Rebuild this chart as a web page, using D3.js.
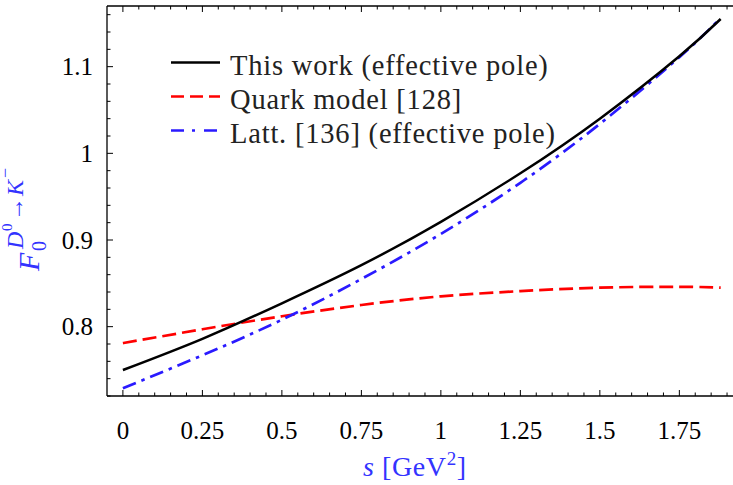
<!DOCTYPE html>
<meta charset="utf-8">
<script src="https://d3js.org/d3.v7.min.js"></script>
<style>
  body { margin: 0; background: #fff; }
  text { font-family: "Liberation Serif", "Times New Roman", serif; }
</style>
<div id="chart"></div>
<script>

// values
var sVals = [0, 0.25, 0.5, 0.75, 1, 1.25, 1.5, 1.75, 1.88];
var thisWork = [0.750, 0.786, 0.827, 0.871, 0.921, 0.977, 1.040, 1.112, 1.155];
var quarkModel = [0.781, 0.797, 0.812, 0.825, 0.835, 0.841, 0.845, 0.846, 0.845];
var lattice = [0.729, 0.767, 0.808, 0.855, 0.907, 0.966, 1.034, 1.111, 1.156];

var xTicks = [0, 0.25, 0.5, 0.75, 1, 1.25, 1.5, 1.75];
var xTickLabels = ["0", "0.25", "0.5", "0.75", "1", "1.25", "1.5", "1.75"];
var yTicks = [0.8, 0.9, 1.0, 1.1];
var yTickLabels = ["0.8", "0.9", "1", "1.1"];

var legendNames = ["This work (effective pole)", "Quark model [128]", "Latt. [136] (effective pole)"];

var width = 733, height = 485;
var pLeft = 107, pRight = 733.4, pTop = 6, pBottom = 396;

var svg = d3.select("#chart")
  .append("svg")
    .attr("width", width)
    .attr("height", height);

var x = d3.scaleLinear()
  .domain([-0.05, 1.92])
  .range([pLeft, pRight]);

var y = d3.scaleLinear()
  .domain([0.72, 1.17])
  .range([pBottom, pTop]);

// frame
var frame = svg.append("g").attr("stroke", "#000").attr("stroke-width", 1.3).attr("fill", "none");
frame.append("line").attr("x1", pLeft).attr("x2", pLeft).attr("y1", pTop).attr("y2", pBottom);
frame.append("line").attr("x1", pLeft).attr("x2", width).attr("y1", pBottom).attr("y2", pBottom);
frame.append("line").attr("x1", pLeft).attr("x2", width).attr("y1", pTop).attr("y2", pTop);

// minor / major ticks, pointing inwards
var xMinor = d3.range(0, 1.92, 0.05);
var yMinor = d3.range(0.72, 1.17, 0.02);

function isMajor(v, step) {
  return Math.abs(v / step - Math.round(v / step)) < 1e-6;
}

var tickG = svg.append("g").attr("stroke", "#000").attr("stroke-width", 1);
xMinor.forEach(function(v) {
  var len = isMajor(v, 0.25) ? 6 : 3.5;
  tickG.append("line").attr("x1", x(v)).attr("x2", x(v)).attr("y1", pBottom).attr("y2", pBottom - len);
  tickG.append("line").attr("x1", x(v)).attr("x2", x(v)).attr("y1", pTop).attr("y2", pTop + len);
});
yMinor.forEach(function(v) {
  var len = isMajor(v, 0.1) ? 6 : 3.5;
  tickG.append("line").attr("x1", pLeft).attr("x2", pLeft + len).attr("y1", y(v)).attr("y2", y(v));
});

// tick labels
svg.append("g").selectAll("text")
  .data(xTicks)
  .enter()
  .append("text")
    .attr("x", function(d) { return x(d); })
    .attr("y", 439)
    .attr("text-anchor", "middle")
    .style("font-size", "25px")
    .text(function(d, i) { return xTickLabels[i]; });

svg.append("g").selectAll("text")
  .data(yTicks)
  .enter()
  .append("text")
    .attr("x", 93)
    .attr("y", function(d) { return y(d) + 8.5; })
    .attr("text-anchor", "end")
    .style("font-size", "25px")
    .text(function(d, i) { return yTickLabels[i]; });

// curves
var series = [
  { vals: thisWork, color: "#000000", dash: null, legDash: null, w: 2.5 },
  { vals: quarkModel, color: "#ff0000", dash: "14,6", legDash: "13,6", w: 2.7 },
  { vals: lattice, color: "#2a1aff", dash: "14,6,3.5,6", legDash: "13,8,3,9", w: 2.7 }
];

var line = d3.line()
  .x(function(d) { return x(d[0]); })
  .y(function(d) { return y(d[1]); })
  .curve(d3.curveNatural);

var plotArea = svg.append("g");
[1, 2, 0].forEach(function(k) {
  var ser = series[k];
  plotArea.append("path")
    .datum(sVals.map(function(s, i) { return [s, ser.vals[i]]; }))
    .attr("fill", "none")
    .attr("stroke", ser.color)
    .attr("stroke-width", ser.w)
    .attr("stroke-dasharray", ser.dash)
    .attr("d", line);
});

// legend
var legend = svg.append("g");
series.forEach(function(ser, i) {
  var ly = 62.5 + i * 34;
  legend.append("line")
    .attr("x1", 171).attr("x2", 220)
    .attr("y1", ly).attr("y2", ly)
    .attr("stroke", ser.color)
    .attr("stroke-width", ser.w)
    .attr("stroke-dasharray", ser.legDash);
  legend.append("text")
    .attr("x", 230)
    .attr("y", ly + 12)
    .style("font-size", "28.5px")
    .style("letter-spacing", "0.8px")
    .attr("fill", "#222")
    .text(legendNames[i]);
});

// axis titles (blue)
var blue = "#3333ff";
var xt = svg.append("text")
  .attr("x", 363)
  .attr("y", 476)
  .attr("fill", blue)
  .style("font-size", "28px")
  .style("letter-spacing", "0.6px");
xt.append("tspan").style("font-style", "italic").text("s");
xt.append("tspan").text(" [GeV");
xt.append("tspan").attr("dy", -11).style("font-size", "19px").text("2");
xt.append("tspan").attr("dy", 11).text("]");

var yl = svg.append("g")
  .attr("transform", "translate(39,271) rotate(-90)")
  .attr("fill", blue);
yl.append("text").attr("x", 0).attr("y", 0).style("font-size", "30px").style("font-style", "italic").text("F");
yl.append("text").attr("x", 20).attr("y", 7).style("font-size", "20px").text("0");
yl.append("text").attr("x", 22).attr("y", -16).style("font-size", "24px").style("font-style", "italic").text("D");
yl.append("text").attr("x", 40).attr("y", -27).style("font-size", "15px").text("0");
yl.append("text").attr("x", 50).attr("y", -16).style("font-size", "24px").text("\u2192");
yl.append("text").attr("x", 75).attr("y", -16).style("font-size", "24px").style("font-style", "italic").text("K");
yl.append("text").attr("x", 93).attr("y", -28).style("font-size", "18px").text("\u2212");

</script>
